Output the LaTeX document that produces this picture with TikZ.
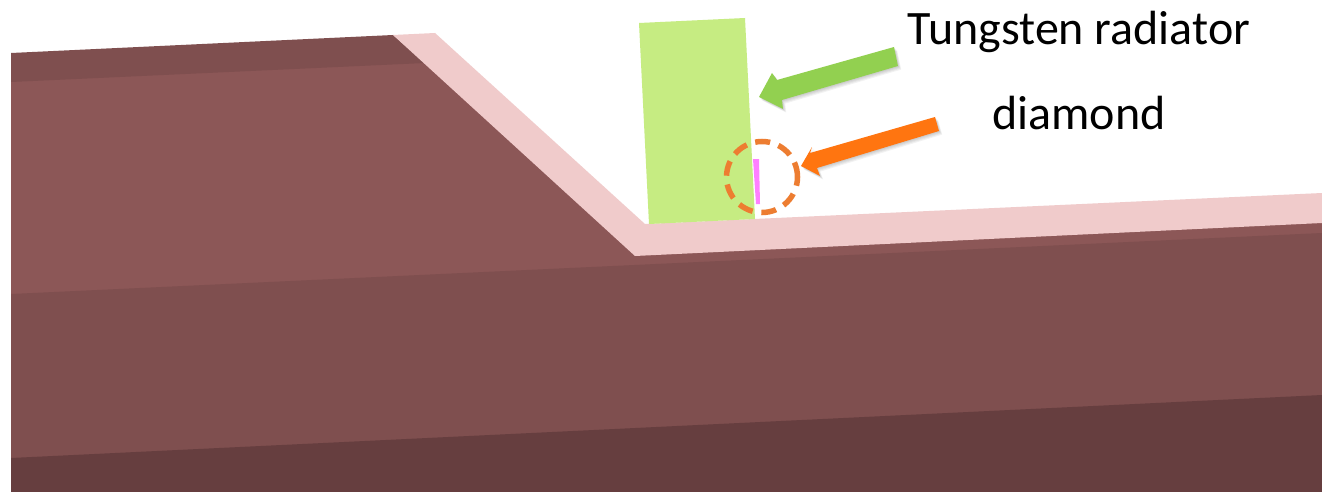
\documentclass[tikz,border=0pt]{standalone}
\usepackage{fontspec}
\setmainfont{Carlito}
\definecolor{pinkface}{HTML}{F0CBCB}
\definecolor{midface}{HTML}{8C5757}
\definecolor{bandface}{HTML}{7F4F4F}
\definecolor{darkface}{HTML}{663E3F}
\definecolor{radiator}{HTML}{C6EC82}
\definecolor{greenarrow}{HTML}{92D050}
\definecolor{orangearrow}{HTML}{FF7510}
\definecolor{ringcolor}{HTML}{ED7D31}
\definecolor{diamondbar}{HTML}{FF80FF}
\tikzset{
  face/.style={line width=0pt},
  label text/.style={font=\fontsize{48}{56}\selectfont,text=black,inner sep=0pt,anchor=base},
  arrow shadow/.style={fill=black,fill opacity=0.05,line width=0pt},
  ring/.style={circle,draw=ringcolor,line width=5.5pt,dash pattern=on 15pt off 8.8pt,minimum size=71pt,inner sep=0pt}
}
\newcommand{\greenshape}{(759,97) -- (772,73) -- (777,80) -- (894,47) -- (898,66) -- (782,100) -- (783,109) -- cycle}
\newcommand{\orangeshape}{(801,166) -- (812,147) -- (810,153) -- (935,117) -- (939,131) -- (817,168) -- (820,176) -- cycle}
\begin{document}
\begin{tikzpicture}[x=1pt,y=-1pt]
\useasboundingbox (0,0) rectangle (1322,492);
\fill[white] (0,0) rectangle (1322,492);
% solid body, back to front with overlaps so no seams show
\fill[midface,face] (11,70) -- (420,50) -- (650,235) -- (1322,215) -- (1322,240) -- (11,300) -- cycle;
\fill[bandface,face] (11,53) -- (393,35) -- (425,63) -- (11,82) -- cycle;
\fill[bandface,face] (11,294) -- (1322,233) -- (1322,400) -- (11,462) -- cycle;
\fill[darkface,face] (11,458) -- (1322,395) -- (1322,492) -- (11,492) -- cycle;
\fill[pinkface,face] (393,35) -- (435,33) -- (645,224) -- (1322,193) -- (1322,223) -- (635,256) -- cycle;
% radiator and diamond
\fill[radiator,face] (639,23) -- (745,18) -- (755,219) -- (649,224) -- cycle;
\fill[diamondbar,face] (753,159) -- (759,159) -- (760,204) -- (756,204) -- cycle;
\node[ring] (ringmark) at (762,177) {};
% arrows
\foreach \d in {1,2,3,4}{
  \fill[arrow shadow,shift={(\d*0.8,\d*0.9)}] \greenshape;
  \fill[arrow shadow,shift={(\d*0.8,\d*0.9)}] \orangeshape;
}
\fill[greenarrow,face] \greenshape;
\fill[orangearrow,face] \orangeshape;
% labels
\node[label text] (tungsten) at (1079,45) {Tungsten radiator};
\node[label text] (diamond) at (1079,130) {diamond};
\end{tikzpicture}
\end{document}
